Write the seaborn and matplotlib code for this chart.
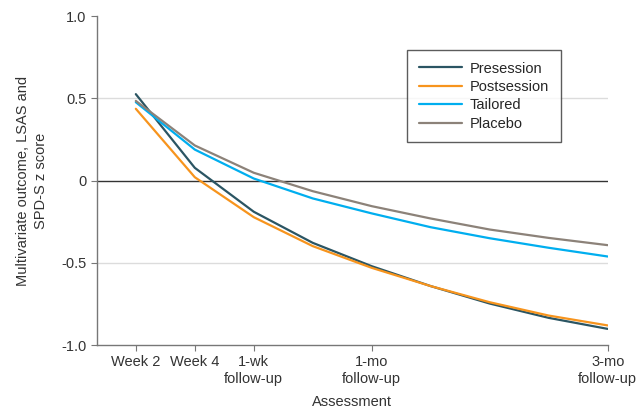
import numpy as np
import pandas as pd
import matplotlib.pyplot as plt
import seaborn as sns

# assessment positions (0 = week 2 ... 8 = 3-mo follow-up)
positions = [0, 1, 2, 3, 4, 5, 6, 7, 8]
presession = [0.525, 0.077, -0.19, -0.379, -0.521, -0.642, -0.748, -0.835, -0.902]
postsession = [0.436, 0.02, -0.223, -0.399, -0.531, -0.642, -0.74, -0.821, -0.881]
tailored = [0.476, 0.188, 0.012, -0.109, -0.2, -0.284, -0.351, -0.409, -0.462]
placebo = [0.484, 0.213, 0.047, -0.065, -0.156, -0.231, -0.298, -0.349, -0.393]

tick_pos = [0, 1, 2, 4, 8]
tick_labels = ["Week 2", "Week 4", "1-wk\nfollow-up", "1-mo\nfollow-up", "3-mo\nfollow-up"]

groups = ["Presession", "Postsession", "Tailored", "Placebo"]
colors = ["#2b5563", "#f7941d", "#00aeef", "#8c8279"]

df = pd.concat([
    pd.DataFrame({"Assessment": positions, "z": vals, "Group": g})
    for g, vals in zip(groups, [presession, postsession, tailored, placebo])
])

sns.set_style("ticks")
plt.rcParams['font.family'] = ['Liberation Sans', 'DejaVu Sans']

fig = plt.figure(figsize=(6.39, 4.19), dpi=100)
ax = fig.add_axes([0.152, 0.1766, 0.799, 0.7852])

# reference lines
ax.axhline(0.5, color="#dcdcdc", lw=1, zorder=0)
ax.axhline(-0.5, color="#dcdcdc", lw=1, zorder=0)
ax.axhline(0, color="#333333", lw=1, zorder=1)

sns.lineplot(data=df, x="Assessment", y="z", hue="Group", hue_order=groups,
             palette=colors, linewidth=1.6, ax=ax)

ax.set_xlim(-0.656, 8)
ax.set_ylim(-1.0, 1.0)
ax.set_xticks(tick_pos)
ax.set_xticklabels(tick_labels, linespacing=1.25)
ax.set_yticks([-1.0, -0.5, 0, 0.5, 1.0])
ax.set_yticklabels(["-1.0", "-0.5", "0", "0.5", "1.0"])
ax.tick_params(labelsize=10.5, color="#777777", length=4, labelcolor="#333333")
for s in ["top", "right"]:
    ax.spines[s].set_visible(False)
for s in ["left", "bottom"]:
    ax.spines[s].set_color("#777777")
    ax.spines[s].set_linewidth(1)

ax.set_xlabel("Assessment", fontsize=10.5, color="#333333", labelpad=6)
ax.set_ylabel("Multivariate outcome, LSAS and\nSPD-S z score", fontsize=10.5,
              color="#333333", labelpad=10, linespacing=1.3)

leg = ax.legend(loc="upper left", bbox_to_anchor=(0.607, 0.897), fontsize=10.5,
                frameon=True, fancybox=False, handlelength=3.0, borderpad=0.8,
                labelspacing=0.3, handletextpad=0.5, borderaxespad=0)
leg.get_frame().set_edgecolor("#333333")
leg.get_frame().set_linewidth(1)
leg.set_title(None)

fig.savefig("out.png", dpi=100)
